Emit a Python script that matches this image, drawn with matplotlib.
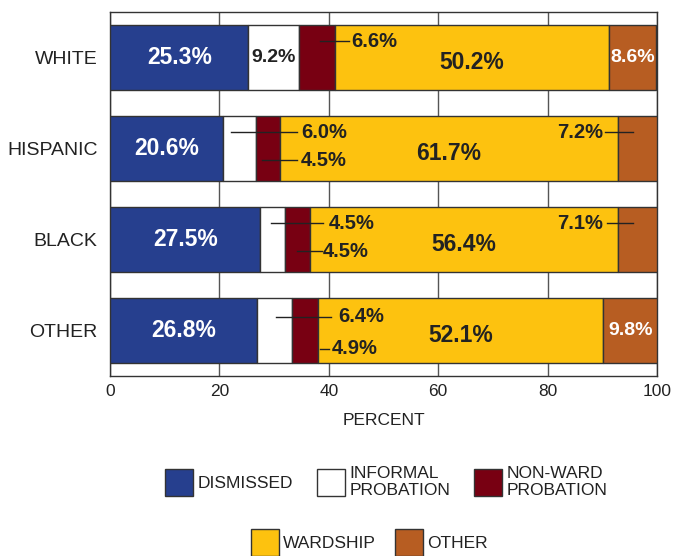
import matplotlib
matplotlib.use("Agg")
import matplotlib.pyplot as plt
from matplotlib.patches import Patch

plt.rcParams['font.family'] = ['Liberation Sans', 'DejaVu Sans']

groups = ["WHITE", "HISPANIC", "BLACK", "OTHER"]
series = ["DISMISSED", "INFORMAL\nPROBATION", "NON-WARD\nPROBATION", "WARDSHIP", "OTHER"]
dismissed = [25.3, 20.6, 27.5, 26.8]
informal = [9.2, 6.0, 4.5, 6.4]
nonward = [6.6, 4.5, 4.5, 4.9]
wardship = [50.2, 61.7, 56.4, 52.1]
other = [8.6, 7.2, 7.1, 9.8]
xticks = [0, 20, 40, 60, 80, 100]

colors = ["#263F8E", "#FFFFFF", "#780012", "#FDC20F", "#B75D22"]
edge = "#333333"
values = [dismissed, informal, nonward, wardship, other]

fig = plt.figure(figsize=(6.74, 5.56), dpi=100)
ax = fig.add_axes([0.1632, 0.3237, 0.8116, 0.6547])

ypos = list(range(len(groups)))
left = [0.0] * len(groups)
for vals, c in zip(values, colors):
    ax.barh(ypos, vals, left=left, height=0.714, color=c, edgecolor=edge,
            linewidth=1.0, zorder=3)
    left = [l + v for l, v in zip(left, vals)]

ax.set_xlim(0, 100)
ax.set_ylim(3.5, -0.5)
ax.set_xticks(xticks)
ax.set_xticklabels([str(t) for t in xticks], fontsize=12.5, color="#222222")
ax.set_yticks(ypos)
ax.set_yticklabels(groups, fontsize=14, color="#222222")
ax.tick_params(axis="both", length=0, pad=6)
ax.tick_params(axis="y", pad=9)
ax.grid(axis="x", color="#555555", linewidth=1.0, zorder=0)
for s in ax.spines.values():
    s.set_color("#333333")
    s.set_linewidth(1.0)
ax.set_xlabel("PERCENT", fontsize=12.5, color="#222222", labelpad=10)

def seg_center(i, k):
    start = sum(values[j][i] for j in range(k))
    return start + values[k][i] / 2

def pct(v):
    return f"{v:.1f}%"

BIG = 16.5
SMALL = 14.5

# in-bar labels
for i in range(len(groups)):
    ax.text(seg_center(i, 0), i, pct(dismissed[i]), ha="center", va="center",
            color="white", fontsize=BIG, fontweight="bold", zorder=5)
    ax.text(seg_center(i, 3), i + 0.05, pct(wardship[i]), ha="center", va="center",
            color="#222222", fontsize=BIG, fontweight="bold", zorder=5)

ax.text(seg_center(0, 1), 0, pct(informal[0]), ha="center", va="center",
        color="#222222", fontsize=14, fontweight="bold", zorder=5)
ax.text(seg_center(0, 4), 0, pct(other[0]), ha="center", va="center",
        color="white", fontsize=14, fontweight="bold", zorder=5)
ax.text(seg_center(3, 4), 3, pct(other[3]), ha="center", va="center",
        color="white", fontsize=14, fontweight="bold", zorder=5)

# callout labels: (group, series index, line start x, line end x, y offset, text x, ha)
callouts = [
    (0, 2, 38.4, 43.7, -0.18, 44.1, "left"),
    (1, 1, 22.1, 34.2, -0.18, 35.0, "left"),
    (1, 2, 27.8, 34.2, 0.13, 34.8, "left"),
    (1, 4, 90.5, 95.6, -0.18, 90.1, "right"),
    (2, 1, 29.4, 38.9, -0.18, 40.0, "left"),
    (2, 2, 34.2, 38.8, 0.13, 38.9, "left"),
    (2, 4, 90.8, 95.6, -0.18, 90.2, "right"),
    (3, 1, 30.3, 40.4, -0.15, 41.7, "left"),
    (3, 2, 38.4, 40.0, 0.20, 40.6, "left"),
]
for g, k, x0, x1, dy, tx, ha in callouts:
    y = g + dy
    ax.plot([x0, x1], [y, y], color="#222222", linewidth=1.0, zorder=6)
    ax.text(tx, y, pct(values[k][g]), ha=ha, va="center", color="#222222",
            fontsize=SMALL, fontweight="bold", zorder=6)

handles = [Patch(facecolor=c, edgecolor=edge, linewidth=1.0) for c in colors]
leg_kw = dict(frameon=False, fontsize=12.5, handlelength=1.6, handleheight=2.0,
              handletextpad=0.25, labelspacing=0.2, labelcolor="#222222")
fig.legend(handles[:3], series[:3], ncol=3, loc="center",
           bbox_to_anchor=(0.573, 0.133), columnspacing=1.4, **leg_kw)
fig.legend(handles[3:], series[3:], ncol=2, loc="center",
           bbox_to_anchor=(0.548, 0.024), columnspacing=1.1, **leg_kw)

fig.savefig("out.png", dpi=100)
